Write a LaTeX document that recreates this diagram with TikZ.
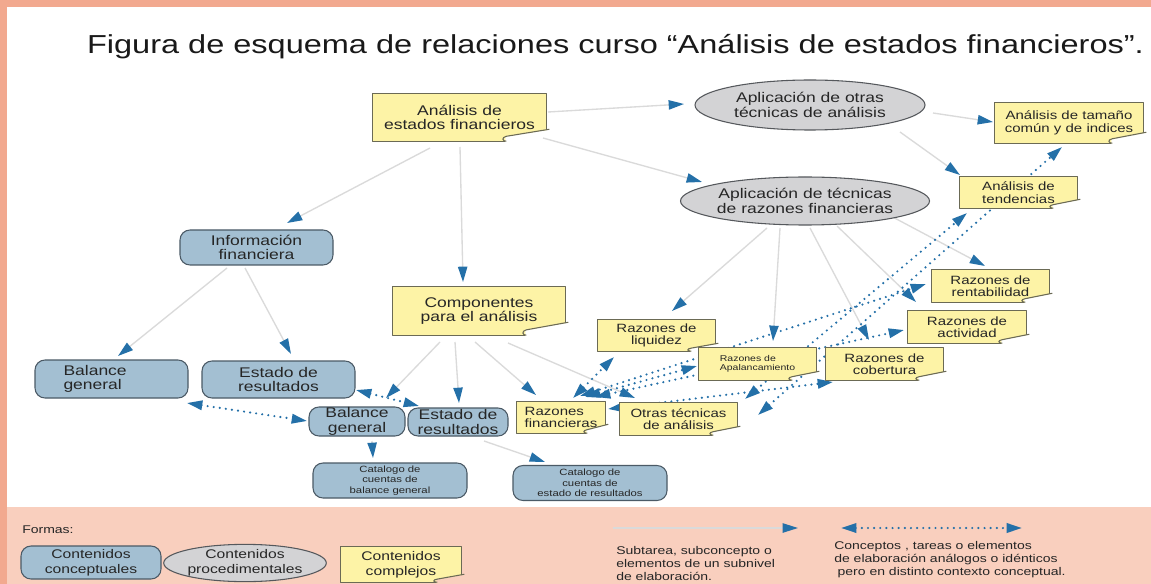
\documentclass[tikz,border=0pt]{standalone}
\usepackage{fontspec}
\setmainfont{Liberation Sans}[FakeStretch=1.25]
\usetikzlibrary{arrows.meta,shapes.geometric,calc}
\pgfdeclarelayer{bg}
\pgfsetlayers{bg,main}
\definecolor{salmon}{HTML}{F9CFBE}
\definecolor{salmond}{HTML}{F2A98F}
\definecolor{notefill}{HTML}{FDF3A6}
\definecolor{notedraw}{HTML}{6B6A55}
\definecolor{bbox}{HTML}{A3BFD2}
\definecolor{bboxd}{HTML}{4B5A66}
\definecolor{ellf}{HTML}{D3D3D5}
\definecolor{elld}{HTML}{55585C}
\definecolor{ablue}{HTML}{2470A8}
\definecolor{lline}{HTML}{DADADA}
\definecolor{txt}{HTML}{262626}
\begin{document}
\begin{tikzpicture}[x=0.75pt,y=-0.75pt,
  base/.style={inner sep=0pt, align=center, text=txt},
  wh/.style 2 args={minimum width=#1*0.75pt, minimum height=#2*0.75pt},
  fbig/.style={font=\fontsize{10.5pt}{11pt}\selectfont},
  fmid/.style={font=\fontsize{9pt}{9.4pt}\selectfont},
  fsmall/.style={font=\fontsize{6.3pt}{7.2pt}\selectfont},
  fcat/.style={font=\fontsize{6.8pt}{7.9pt}\selectfont},
  fleg/.style={font=\fontsize{9.4pt}{11pt}\selectfont},
  ftxt/.style={font=\fontsize{8.4pt}{9.75pt}\selectfont},
  conc/.style={base, draw=bboxd, fill=bbox, line width=0.8pt, rounded corners=7.5pt},
  proc/.style={base, ellipse, draw=elld, fill=ellf, line width=0.8pt},
  notebox/.style={base},
  sub/.style={draw=lline, line width=1pt, -{Triangle[length=11.5pt,width=7pt,color=ablue]}},
  ana/.style={draw=ablue, line width=1.8pt, dash pattern=on 0pt off 4.6pt, line cap=round,
    {Triangle[length=11.5pt,width=7pt]}-{Triangle[length=11.5pt,width=7pt]}}
]
\useasboundingbox (0,0) rectangle (1151,584);

% title
\node[base, font=\fontsize{19.5pt}{22pt}\selectfont, text=black!90] (title) at (615.5,47)
  {Figura de esquema de relaciones curso “Análisis de estados financieros”.};

% complex contents (notes)
\node[notebox, wh={173}{47}, fbig] (A) at (459.5,117.5) {Análisis de\\estados financieros};
\node[notebox, wh={172}{48}, fbig] (Comp) at (479,311) {Componentes\\para el análisis};
\node[notebox, wh={148}{40}, fmid] (T1) at (1069,123) {Análisis de tamaño\\común y de indices};
\node[notebox, wh={117}{31}, fmid] (T2) at (1018.5,192.5) {Análisis de\\tendencias};
\node[notebox, wh={117}{32}, fmid] (RR) at (990.5,286) {Razones de\\rentabilidad};
\node[notebox, wh={118}{32}, fmid] (RAct) at (967,327) {Razones de\\actividad};
\node[notebox, wh={117}{31}, fmid] (RL) at (656.5,335.5) {Razones de\\liquidez};
\node[notebox, wh={117}{32}, fsmall, align=left] (RA) at (757.5,364) {Razones de\\Apalancamiento};
\node[notebox, wh={117}{32}, fmid] (RC) at (884.5,364) {Razones de\\cobertura};
\node[notebox, wh={88}{31}, fmid, align=left] (RF) at (561,417.5) {Razones\\financieras};
\node[notebox, wh={117}{32}, fmid] (OT) at (678.5,419) {Otras técnicas\\de análisis};

% procedural contents (ellipses)
\node[proc, wh={230}{50}, fbig] (E1) at (810,105) {Aplicación de otras\\técnicas de análisis};
\node[proc, wh={246}{48}, fbig] (E2) at (805,201) {Aplicación de técnicas\\de razones financieras};

% conceptual contents
\node[conc, wh={153}{35}, fbig] (Info) at (256.5,247.5) {Información\\financiera};
\node[conc, wh={153}{38}, fbig, text width=96*0.75pt, align=left] (BG1) at (111.5,379) {Balance\\general};
\node[conc, wh={153}{37}, fbig] (ER1) at (278.5,379.5) {Estado de\\resultados};
\node[conc, wh={96}{29}, fbig] (BG2) at (357,421.5) {Balance\\general};
\node[conc, wh={100}{28}, fbig] (ER2) at (458,422) {Estado de\\resultados};
\node[conc, wh={154}{35}, fcat] (CBG) at (390,480.5) {Catalogo de\\cuentas de\\balance general};
\node[conc, wh={154}{35}, fcat] (CER) at (590,483) {Catalogo de\\cuentas de\\estado de resultados};

% legend
\node[base, ftxt, anchor=west] (formas) at (22,530) {Formas:};
\node[conc, wh={140}{33}, fleg] (LBox) at (91,562.5) {Contenidos\\conceptuales};
\node[proc, wh={157}{34}, fleg] (LEll) at (245,563) {Contenidos\\procedimentales};
\node[notebox, wh={120}{35}, fleg] (LNote) at (401,564.5) {Contenidos\\complejos};
\coordinate (ls1) at (613,528);
\coordinate (ls2) at (798,528);
\coordinate (ld1) at (841,528);
\coordinate (ld2) at (1022,528);
\node[base, ftxt, align=left, anchor=west] (Lsub) at (616,563)
  {Subtarea, subconcepto o\\elementos de un subnivel\\de elaboración.};
\node[base, ftxt, align=left, anchor=west] (Lana) at (834,560)
  {Conceptos , tareas o elementos\\de elaboración análogos o idénticos\\\hspace*{2.5pt}pero en distinto contexto conceptual.};

\begin{pgfonlayer}{bg}
  \fill[white] (0,0) rectangle (1151,584);
  \fill[salmon] (0,507) rectangle (1151,584);
  \fill[salmond] (0,0) rectangle (1151,7);
  \fill[salmond] (0,0) rectangle (7,584);

  % subordinate connectors
  \draw[sub] ($(A)+(88.5,-5.5)$) -- ($(E1)+(-126,-1)$);
  \draw[sub] ($(A)+(83.5,20.5)$) -- ($(E2)+(-103,-19)$);
  \draw[sub] ($(A)+(-29.5,30.5)$) -- ($(Info)+(30.5,-24.5)$);
  \draw[sub] ($(A)+(0.5,29.5)$) -- ($(Comp)+(-16,-29)$);
  \draw[sub] ($(E1)+(123,8)$) -- ($(T1)+(-76,-1)$);
  \draw[sub] ($(E1)+(90,27)$) -- ($(T2)+(-58.5,-17.5)$);
  \draw[sub] ($(E2)+(-38,27)$) -- ($(RL)+(15.5,-24.5)$);
  \draw[sub] ($(E2)+(-25,27)$) -- ($(RA)+(15.5,-23)$);
  \draw[sub] ($(E2)+(5,27)$) -- ($(RC)+(-15.5,-24)$);
  \draw[sub] ($(E2)+(32,25)$) -- ($(RAct)+(-51,-25)$);
  \draw[sub] ($(E2)+(82,13)$) -- ($(RR)+(-5.5,-20)$);
  \draw[sub] ($(Info)+(-29.5,20.5)$) -- ($(BG1)+(6.5,-23)$);
  \draw[sub] ($(Info)+(-11.5,20.5)$) -- ($(ER1)+(12.5,-25.5)$);
  \draw[sub] ($(Comp)+(-39,31)$) -- ($(BG2)+(29,-23.5)$);
  \draw[sub] ($(Comp)+(-24,31)$) -- ($(ER2)+(1,-19)$);
  \draw[sub] ($(Comp)+(-4,31)$) -- ($(RF)+(-25,-22.5)$);
  \draw[sub] ($(Comp)+(29,32)$) -- ($(OT)+(-43.5,-21)$);
  \draw[sub] ($(BG2)+(15,19.5)$) -- ($(CBG)+(-17,-22.5)$);
  \draw[sub] ($(ER2)+(26,19)$) -- ($(CER)+(-45,-21)$);

  % analogous connectors
  \draw[ana] ($(BG1)+(75.5,24)$) -- ($(BG2)+(-50,-0.5)$);
  \draw[ana] ($(ER1)+(77.5,10.5)$) -- ($(ER2)+(-39,-16)$);
  \draw[ana] ($(RF)+(12,-19.5)$) -- ($(RL)+(-42.5,21.5)$);
  \draw[ana] ($(RF)+(24,-20.5)$) -- ($(RA)+(-60.5,2)$);
  \draw[ana] ($(RF)+(47,-8.5)$) -- ($(RC)+(-51.5,18)$);
  \draw[ana] ($(RF)+(34,-20.5)$) -- ($(RAct)+(-63,3)$);
  \draw[ana] ($(RF)+(19,-21.5)$) -- ($(RR)+(-64.5,-2)$);
  \draw[ana] ($(OT)+(66.5,-20)$) -- ($(T2)+(-51.5,20.5)$);
  \draw[ana] ($(OT)+(79.5,-4)$) -- ($(T1)+(-7,24)$);

  % legend connectors
  \draw[sub] (ls1) -- (ls2);
  \draw[ana] (ld1) -- (ld2);

  % note shapes
  \foreach \nn/\fw/\fh in {A/44/11, Comp/43/12, T1/35/10, T2/28/8, RR/28/8, RAct/28/8,
      RL/28/7, RA/28/8, RC/28/8, RF/22/8, OT/28/8, LNote/28/7} {
    \fill[notefill] (\nn.north west) -- (\nn.north east) -- ($(\nn.south east)+(0,-\fh)$)
      -- ($(\nn.south east)+(-\fw+3,-0.45*\fh)$) -- ($(\nn.south east)+(-\fw+3,0)$)
      -- (\nn.south west) -- cycle;
    \draw[notedraw, line width=0.9pt, line join=round] ($(\nn.south east)+(-\fw+3,0)$)
      -- (\nn.south west) -- (\nn.north west) -- (\nn.north east) -- ($(\nn.south east)+(0,-\fh)$);
    \draw[notedraw, line width=0.8pt] ($(\nn.south east)+(3,-\fh-1)$)
      -- ($(\nn.south east)+(-\fw+4,-0.45*\fh)$)
      .. controls ($(\nn.south east)+(-\fw-1,-0.35*\fh)$) and ($(\nn.south east)+(-\fw,0)$)
      .. ($(\nn.south east)+(-\fw+4,0)$);
  }
\end{pgfonlayer}
\end{tikzpicture}
\end{document}
